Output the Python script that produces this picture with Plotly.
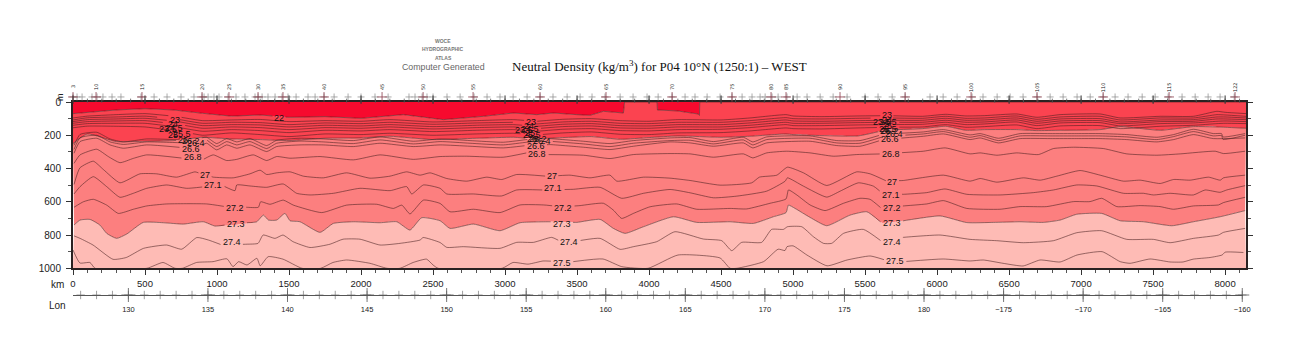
import numpy as np
import plotly.graph_objects as go

# ---------- isopycnal depths (km along track, depth in m) ----------
KM_22 = [0,100,300,500,700,900,1100,1300,1500,1750,2000,2294,2572,2850,3058,3220,3335,3498,3590,3683,3822,3830,4056,4058,4200,4340,4350,4352,8145]
D_22  = [70,62,48,40,48,68,85,78,92,88,98,76,106,86,66,76,66,76,80,56,66,0,0,48,54,72,80,0,0]

KM_UPPER = [0,100,300,500,700,900,1100,1300,1500,1750,2000,2200,2500,2800,3058,3220,3400,3600,3800,4000,4200,4500,4700,4950,5000,5200,5450,5650,5900,6060,6200,6330,6553,6692,6854,7132,7271,7549,7780,7943,8000,8145]
D_23   = [96,85,76,70,85,112,108,105,118,112,116,106,120,112,106,116,104,100,112,116,106,108,96,76,84,88,84,82,86,74,84,82,72,92,76,72,96,86,86,56,62,70]
D_23_5 = [108,95,90,85,100,128,122,124,136,126,130,122,134,126,122,132,120,116,128,130,122,122,112,94,100,102,98,96,98,86,98,96,84,104,90,86,108,96,96,76,78,86]
D_24   = [118,106,102,98,114,142,136,138,150,140,144,136,148,140,136,146,134,130,142,144,136,136,126,108,114,116,112,110,110,98,110,108,96,116,102,100,120,108,106,90,90,96]
D_24_5 = [128,118,114,112,130,158,150,154,166,154,158,150,162,154,150,160,148,144,156,158,150,150,140,122,128,128,124,122,122,110,122,120,108,128,114,112,130,118,116,102,102,106]
D_25   = [140,130,128,128,148,176,166,172,184,170,174,166,178,170,166,176,164,160,172,174,166,164,154,136,142,142,138,136,134,122,136,132,120,142,126,124,144,130,126,116,114,118]
D_25_5 = [155,145,146,150,172,200,186,196,208,192,196,188,200,192,188,198,186,180,194,196,186,184,174,156,160,162,156,152,150,136,152,148,138,160,144,142,160,146,140,130,128,130]
D_26   = [250,192,238,236,232,212,222,226,232,218,216,206,226,218,212,222,214,208,224,214,204,212,206,192,196,202,204,168,160,146,170,166,166,172,170,166,148,170,148,150,152,158]

KM_MID = [7,49,165,257,349,512,766,928,998,1067,1137,1229,1345,1414,1576,1738,1947,2132,2363,2549,2757,2988,3150,3312,3544,3729,3891,4146,4285,4447,4655,4720,4817,5118,5303,5465,5628,5905,6044,6229,6299,6426,6577,6785,6970,7132,7317,7526,7642,7780,7919,7975,7985,8050,8139]
D_26_2 = [260,195,182,222,240,222,228,212,250,220,240,220,262,230,218,222,232,210,236,222,232,242,226,220,236,250,232,216,214,238,212,240,210,204,232,232,194,180,166,198,190,218,190,190,190,190,196,212,196,164,190,190,210,204,190]
D_26_4 = [285,215,200,240,255,240,245,228,268,238,258,238,280,248,235,240,250,228,252,238,248,258,242,236,252,268,248,232,230,252,228,258,226,218,246,248,208,192,178,212,202,232,204,204,204,204,210,226,208,178,204,202,225,218,200]

KM_26_6 = [7,49,165,257,349,512,824,928,998,1067,1137,1229,1345,1414,1576,1738,1947,2132,2363,2549,2757,2988,3150,3312,3544,3729,3891,4146,4285,4447,4655,4720,4817,5118,5303,5465,5628,5905,6044,6229,6299,6426,6577,6785,6970,7132,7317,7526,7642,7780,7919,8139]
D_26_6  = [308,238,218,258,278,258,278,248,288,258,278,258,298,268,258,258,268,248,268,258,266,276,262,256,272,286,266,240,246,266,246,276,246,236,262,266,226,206,192,226,216,246,220,220,220,220,226,240,226,196,220,216]

KM_26_8 = [7,49,165,245,326,419,512,766,905,974,1067,1137,1252,1345,1414,1507,1715,1947,2132,2363,2549,2734,2988,3150,3289,3544,3729,3891,4146,4285,4447,4655,4720,4817,4956,5118,5280,5442,5628,5905,6056,6229,6299,6415,6553,6704,6808,6947,7155,7317,7526,7688,7931,7989,8139]
D_26_8  = [369,318,284,328,365,339,318,338,345,318,352,345,318,352,328,338,328,348,318,345,328,326,332,306,316,320,340,316,310,312,332,312,336,306,296,306,326,316,312,296,276,312,306,320,306,316,280,272,280,312,320,312,296,310,296]

KM_27 = [7,48,141,211,326,465,581,720,847,975,1113,1229,1299,1345,1414,1507,1600,1739,1900,2062,2201,2317,2410,2479,2595,2734,2873,2977,3081,3289,3451,3590,3729,3776,3961,4146,4285,4493,4713,4766,4887,4961,5072,5234,5442,5535,5651,5766,6044,6229,6299,6415,6600,6716,6831,6993,7132,7294,7410,7549,7642,7757,7885,7966,7989,8139]
D_27  = [496,396,356,406,486,432,432,452,420,452,456,432,410,436,426,420,446,456,426,458,446,420,440,426,460,476,452,466,436,446,440,456,440,476,452,458,472,500,486,452,440,392,426,502,420,432,476,472,440,476,460,482,456,470,446,412,440,476,470,490,466,470,452,470,456,440]

KM_27_1 = [7,49,141,234,326,419,512,651,789,928,1044,1125,1137,1229,1345,1460,1553,1646,1808,1993,2202,2317,2352,2433,2549,2595,2780,2976,3081,3266,3474,3660,3810,3961,4146,4285,4447,4609,4817,4945,4961,5072,5234,5327,5454,5558,5627,5766,5928,6055,6206,6437,6669,6808,6970,7109,7294,7433,7502,7618,7780,7861,7965,8011,8139]
D_27_1  = [553,509,449,509,573,549,519,499,519,509,505,533,499,505,513,493,549,559,549,519,533,509,553,499,519,553,553,565,529,529,525,513,579,549,526,546,576,566,536,476,456,506,572,536,486,506,552,555,545,523,555,559,545,529,499,505,549,549,559,549,559,529,543,529,503]

KM_27_2 = [7,72,141,234,315,419,512,651,928,1067,1206,1287,1303,1368,1460,1530,1727,1900,2109,2225,2283,2340,2433,2549,2618,2780,2965,3104,3266,3405,3521,3683,3752,3810,3891,4007,4192,4331,4563,4678,4840,4951,4968,5026,5118,5222,5350,5465,5534,5615,5766,5928,6044,6206,6437,6576,6761,6947,7062,7143,7248,7410,7548,7641,7780,7954,7988,8139]
D_27_2  = [633,600,585,620,670,645,625,613,613,630,633,633,600,615,590,620,665,620,615,640,620,673,590,610,660,645,665,619,619,630,623,609,650,700,670,630,613,645,640,643,609,583,529,559,619,653,609,579,585,640,625,613,593,640,645,629,629,599,599,579,629,623,629,645,625,619,605,573]

KM_27_3 = [7,49,118,187,234,303,373,488,627,766,905,986,1276,1322,1357,1414,1472,1507,1576,1715,1808,1947,2132,2248,2340,2421,2549,2618,2780,2965,3104,3312,3498,3660,3752,3833,3961,4169,4331,4563,4725,4863,4951,4968,5014,5118,5234,5396,5512,5615,5766,6021,6206,6391,6576,6738,6854,6970,7143,7271,7433,7630,7780,7965,8139]
D_27_3  = [740,710,706,740,790,820,794,724,726,734,720,746,720,680,710,710,670,714,720,784,730,720,726,720,770,696,714,760,734,774,726,720,724,706,760,790,750,690,724,720,730,690,665,620,640,694,744,680,660,726,714,685,725,724,720,724,710,675,670,714,720,744,720,690,653]

KM_27_4 = [7,49,139,278,370,490,650,755,860,940,1035,1208,1285,1320,1403,1458,1528,1646,1785,1875,1993,2132,2271,2410,2431,2549,2595,2710,2965,3081,3197,3324,3393,3509,3660,3799,3891,4053,4180,4377,4505,4574,4643,4782,4851,4933,4961,5060,5141,5211,5268,5350,5488,5627,5766,6021,6229,6414,6599,6808,6970,7143,7317,7502,7618,7780,7954,7988,8139]
D_27_4  = [805,820,860,946,935,880,860,885,815,830,860,855,850,800,820,800,840,875,855,825,825,860,850,830,815,845,874,870,880,844,844,814,840,834,820,886,870,840,780,824,834,894,844,844,766,766,750,750,810,850,850,790,766,844,814,800,826,834,846,834,786,774,826,826,846,820,800,784,760]

KM_27_5 = [0,48,118,153,513,625,708,760,858,972,1069,1111,1150,1208,1277,1300,1355,1458,1590,1720,1805,1900,2062,2180,2270,2362,2455,2500,2535,2980,3055,3160,3264,3472,3680,3810,3993,4201,4493,4562,4610,4795,4896,4944,4958,5000,5096,5236,5375,5535,5640,5764,6042,6229,6320,6458,6597,6715,6854,6972,7146,7271,7340,7479,7618,7708,7778,7896,7979,8000,8127]
D_27_5  = [890,968,965,1000,1000,965,1000,1000,965,960,943,990,960,980,940,985,930,945,1000,1000,965,950,970,1000,1000,965,945,980,1000,1000,965,975,956,960,944,990,1000,920,938,1000,1000,960,885,893,870,865,920,985,950,926,950,960,944,956,950,970,986,950,962,920,900,960,970,944,962,962,945,935,920,903,905]

# ---------- contour labels ----------
LABEL_TEXT  = ["22","23","23.5","24","24.5","25","25.5","26","26.2","26.4","26.6","26.8","27","27.1","27.2","27.3","27.4",
               "23","23.5","24","24.5","25","25.5","26","26.2","26.4","26.6","26.8","27","27.1","27.2","27.3","27.4","27.5",
               "23","23.5","24","24.5","25","25.5","26","26.2","26.4","26.6","26.8","27","27.1","27.2","27.3","27.4","27.5"]
LABEL_KM    = [1431,708,662,697,701,692,755,762,817,854,817,831,917,975,1125,1130,1102,
               3178,3132,3165,3172,3170,3185,3185,3232,3254,3213,3225,3324,3336,3405,3394,3447,3396,
               5651,5616,5651,5660,5651,5660,5639,5674,5702,5674,5679,5690,5679,5685,5685,5685,5709]
LABEL_DEPTH = [96,106,160,132,156,196,192,230,232,246,280,330,440,500,636,736,840,
               120,170,146,160,186,200,220,220,236,266,312,446,516,636,732,840,966,
               80,120,106,120,146,160,176,176,192,222,312,480,560,636,726,840,958]

# ---------- axes text and ship stations ----------
KM_TICKS = [0,500,1000,1500,2000,2500,3000,3500,4000,4500,5000,5500,6000,6500,7000,7500,8000]
KM_MINOR = list(range(100, 8145, 100))
DEPTH_TICKS = [0,200,400,600,800,1000]
LON_MAJOR = [130,135,140,145,150,155,160,165,170,175,180,185,190,195,200]
LON_TEXT = ["130","135","140","145","150","155","160","165","170","175","180","\u2212175","\u2212170","\u2212165","\u2212160"]
STATION_KM = [0,28,63,132,167,208,271,333,472,563,653,750,840,896,910,938,979,1014,1076,1132,1194,1264,1285,1313,1354,1403,1451,1493,1549,1632,1681,1743,1813,1910,2000,2097,2188,
              2333,2375,2424,2458,2500,2597,2688,2785,2875,2965,3056,3153,3243,3333,3431,3521,3604,3694,3799,3889,3986,4063,4160,4250,4319,4403,4493,4576,4646,4715,4771,4806,4854,4896,4958,5028,5097,5188,5278,5375,
              5500,5590,5688,5778,5951,6042,6139,6243,6319,6417,6507,6597,6694,6785,6875,6972,7063,7153,7236,7326,7424,7514,7604,7701,7792,7882,7965,8063]
STATION_LABEL = ["3","10","15","20","25","30","35","40","45","50","55","60","65","70","75","80","85","90","95","100","105","110","115","122"]
STATION_LABEL_KM = [0,160,479,896,1083,1285,1458,1743,2146,2431,2778,3243,3701,4160,4576,4847,4951,5326,5778,6236,6694,7153,7611,8069]

TITLE = "Neutral Density (kg/m<sup>3</sup>) for P04 10\u00b0N (1250:1) \u2013 WEST"

# ---------- colours ----------
C_TOP, C_UPPER, C_MID, C_DEEP = "#F70A2E", "#FB4350", "#FC7F7F", "#FEBBB5"
C_LINE = "rgba(70,30,30,0.8)"
C_AXIS = "#2a2222"

# ---------- page geometry (browser body margin is 8 px) ----------
W, H = 1284, 334
PX_L, PX_R, PX_HEAD, PX_T, PX_B, PX_LON = 73, 1246, 84, 102, 268.3, 295
XMAX = 8145
SPAN = PX_LON - PX_HEAD
def paper_x(px): return (px - PX_L) / (PX_R - PX_L)
def paper_y(py): return (PX_LON - py) / SPAN

fig = go.Figure()

SMOOTH = dict(shape="spline", smoothing=0.5)

# filled bands
def band(x, y, color, smooth=True):
    ln = dict(width=0, **SMOOTH) if smooth else dict(width=0)
    fig.add_trace(go.Scatter(x=x, y=y, mode="lines", line=ln, fill="tonexty", fillcolor=color,
                             hoverinfo="skip", showlegend=False))
fig.add_trace(go.Scatter(x=[0, XMAX], y=[0, 0], mode="lines", line=dict(width=0), hoverinfo="skip", showlegend=False))
band(KM_22, D_22, C_TOP, smooth=False)
band(KM_UPPER, D_26, C_UPPER)
band(KM_27_3, D_27_3, C_MID)
band([0, XMAX], [1000, 1000], C_DEEP, smooth=False)

# contour lines, broken where their labels sit
lines = [("22", KM_22, D_22), ("23", KM_UPPER, D_23), ("23.5", KM_UPPER, D_23_5), ("24", KM_UPPER, D_24),
         ("24.5", KM_UPPER, D_24_5), ("25", KM_UPPER, D_25), ("25.5", KM_UPPER, D_25_5), ("26", KM_UPPER, D_26),
         ("26.2", KM_MID, D_26_2), ("26.4", KM_MID, D_26_4), ("26.6", KM_26_6, D_26_6), ("26.8", KM_26_8, D_26_8),
         ("27", KM_27, D_27), ("27.1", KM_27_1, D_27_1), ("27.2", KM_27_2, D_27_2), ("27.3", KM_27_3, D_27_3),
         ("27.4", KM_27_4, D_27_4), ("27.5", KM_27_5, D_27_5)]
for name, km, depth in lines:
    x, y = list(km), list(depth)
    gaps = []
    for t, k in zip(LABEL_TEXT, LABEL_KM):
        if t == name:
            w = (len(t) * 4.6 / 2 + 2) / 0.144
            gaps.append((k - w, k + w))
    xs, ys = [], []
    for i in range(len(x)):
        if any(a < x[i] < b for a, b in gaps):
            continue
        xs.append(x[i]); ys.append(y[i])
        if i + 1 < len(x):
            for a, b in gaps:
                if x[i] <= a and x[i + 1] > a:
                    xs += [a, None, b]
                    ys += [float(np.interp(a, x, y)), None, float(np.interp(b, x, y))]
    ln = dict(color=C_LINE, width=0.7)
    if name != "22":
        ln.update(SMOOTH)
    fig.add_trace(go.Scatter(x=xs, y=ys, mode="lines", line=ln, hoverinfo="skip", showlegend=False, connectgaps=False))

# stations and top ticks, on a small header axis above the section
def header(x, y, symbol, size, width, color):
    fig.add_trace(go.Scatter(x=x, y=y, xaxis="x", yaxis="y4", mode="markers", cliponaxis=False,
                             marker=dict(symbol=symbol, size=size, line=dict(width=width, color=color)),
                             hoverinfo="skip", showlegend=False))
header(STATION_KM, [0.72] * len(STATION_KM), "cross-thin", 5, 0.7, "#888")
header(STATION_LABEL_KM, [0.72] * len(STATION_LABEL_KM), "cross-thin", 7, 0.8, "#8a3a4a")
header(KM_MINOR, [0.93] * len(KM_MINOR), "line-ns", 3, 0.8, "#555")
header(KM_TICKS, [0.87] * len(KM_TICKS), "line-ns", 6, 1, "#333")

# longitude marks
lon_minor = [v for v in range(127, 201)]
fig.add_trace(go.Scatter(x=lon_minor, y=[0] * len(lon_minor), xaxis="x2", yaxis="y3", mode="markers", cliponaxis=False,
                         marker=dict(symbol="cross-thin", size=6, line=dict(width=0.7, color="#777")),
                         hoverinfo="skip", showlegend=False))
fig.add_trace(go.Scatter(x=LON_MAJOR, y=[0] * len(LON_MAJOR), xaxis="x2", yaxis="y3", mode="markers", cliponaxis=False,
                         marker=dict(symbol="cross-thin", size=10, line=dict(width=0.8, color="#555")),
                         hoverinfo="skip", showlegend=False))

ann = []
for t, k, d in zip(LABEL_TEXT, LABEL_KM, LABEL_DEPTH):
    ann.append(dict(x=k, y=d, xref="x", yref="y", text=t, showarrow=False, xanchor="center", yanchor="middle",
                    font=dict(family="Liberation Sans", size=9, color="#111")))
for t, k in zip(STATION_LABEL, STATION_LABEL_KM):
    ann.append(dict(x=k, y=paper_y(87), xref="x", yref="paper", text=t, showarrow=False, textangle=-90,
                    xanchor="center", yanchor="middle",
                    font=dict(family="DejaVu Sans", size=5, color="#222")))
def text(px, py, s, size, family="Liberation Sans", color="#222", angle=0):
    ann.append(dict(x=paper_x(px), y=paper_y(py), xref="paper", yref="paper", text=s, showarrow=False, textangle=angle,
                    xanchor="center", yanchor="middle",
                    font=dict(family=family, size=size, color=color)))
text(659, 66, TITLE, 13, family="Liberation Serif", color="#111")
text(443, 41, "<b>WOCE</b>", 5, color="#777")
text(443, 49, "<b>HYDROGRAPHIC</b>", 5, color="#777")
text(443, 58, "<b>ATLAS</b>", 5, color="#777")
text(443, 67, "Computer Generated", 8.8, color="#666")
text(57, 284, "km", 10)
text(57, 305, "Lon", 10)
text(60, 97, "m", 9, angle=-90)

y_bottom = (PX_LON - PX_B) / SPAN
y_top = (PX_LON - PX_T) / SPAN
fig.update_layout(
    width=W, height=H, paper_bgcolor="white", plot_bgcolor="rgba(0,0,0,0)", showlegend=False,
    margin=dict(l=PX_L - 8, r=W - (PX_R - 8), t=PX_HEAD - 8, b=H - (PX_LON - 8), pad=0),
    annotations=ann,
    xaxis=dict(domain=[0, 1], range=[0, XMAX], anchor="y", tickvals=KM_TICKS, ticktext=[str(v) for v in KM_TICKS],
               ticks="outside", ticklen=5, tickwidth=1, tickcolor="#333", showgrid=False, zeroline=False,
               showline=True, linecolor=C_AXIS, linewidth=2, mirror=True, ticklabelstandoff=0,
               tickfont=dict(family="Liberation Sans", size=9.5, color="#222"),
               minor=dict(dtick=100, tick0=0, ticks="outside", ticklen=3, tickwidth=0.8, tickcolor="#555", showgrid=False)),
    yaxis=dict(domain=[y_bottom, y_top], range=[1000, 0], anchor="x", tickvals=DEPTH_TICKS, ticktext=[str(v) for v in DEPTH_TICKS],
               ticks="outside", ticklen=5, tickwidth=1, tickcolor="#333", showgrid=False, zeroline=False,
               showline=True, linecolor=C_AXIS, linewidth=2, mirror="ticks", ticklabelstandoff=3,
               tickfont=dict(family="Liberation Sans", size=10, color="#222"),
               minor=dict(dtick=100, tick0=0, ticks="outside", ticklen=3, tickwidth=0.8, tickcolor="#555", showgrid=False)),
    xaxis2=dict(domain=[0, 0.9975], range=[126.52, 200.05], anchor="y3", tickvals=LON_MAJOR, ticktext=LON_TEXT,
                ticks="", ticklen=0, showgrid=False, zeroline=False, showline=True, linecolor="#555", linewidth=1,
                ticklabelstandoff=7, tickfont=dict(family="Liberation Sans", size=7.5, color="#222")),
    yaxis3=dict(domain=[0, 0.05], range=[0, 1], anchor="x2", visible=False, fixedrange=True),
    yaxis4=dict(domain=[y_top, 1], range=[1, 0], anchor="x", visible=False, fixedrange=True),
)

fig.write_html("out.html")
